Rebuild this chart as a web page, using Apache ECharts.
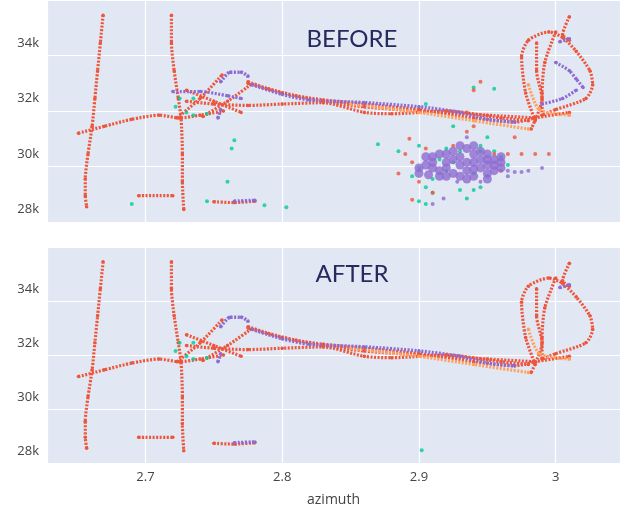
<!DOCTYPE html>
<html>
<head>
<meta charset="utf-8">
<script src="https://cdn.jsdelivr.net/npm/echarts@6/dist/echarts.min.js"></script>
<style>html,body{margin:0;background:#fff}#c{width:628px;height:508px}</style>
</head>
<body>
<div id="c"></div>
<script>
// tracks: [azimuth, value in k]
var redTracks = [
  [[2.669,35.0],[2.667,34],[2.665,33],[2.663,32],[2.661,31],[2.658,30],[2.656,29.1],[2.656,28.5],[2.657,28.1]],
  [[2.719,35.0],[2.719,34],[2.721,33],[2.724,32],[2.726,31.3],[2.727,30],[2.727,29],[2.728,28.0]],
  [[2.651,30.75],[2.67,31.0],[2.69,31.25],[2.71,31.4],[2.725,31.3],[2.74,31.4],[2.757,31.55]],
  [[2.695,28.5],[2.72,28.5]],
  [[2.75,28.28],[2.765,28.25],[2.78,28.3]],
  [[2.775,32.6],[2.79,32.35],[2.81,32.1],[2.83,31.95],[2.86,31.8],[2.90,31.6],[2.94,31.3],[2.97,31.15],[2.985,31.3],[3.01,31.5]],
  [[2.73,31.9],[2.75,31.8],[2.775,31.75],[2.80,31.8],[2.83,31.85],[2.86,31.5],[2.88,31.45],[2.92,31.55],[2.96,31.3],[2.98,31.2]],
  [[2.775,32.55],[2.80,32.2],[2.83,31.9],[2.86,31.7],[2.90,31.55],[2.95,31.4],[2.985,31.3]],
  [[2.985,31.2],[2.978,32.2],[2.975,33.5],[2.98,34.1],[2.995,34.4],[3.005,34.2],[3.015,33.7],[3.025,33.0],[3.027,32.5],[3.022,32.0],[3.0,31.6],[2.99,31.4]],
  [[2.986,34.0],[2.986,33],[2.99,32],[2.982,30.9]],
  [[3.0,34.4],[2.992,33.3],[2.99,32.2],[2.99,31.4]],
  [[3.01,34.95],[3.005,34.3],[3.01,34.1]],
  [[2.723,31.3],[2.74,32.0],[2.756,32.85]],
  [[2.73,32.3],[2.75,31.9],[2.77,31.5]],
  [[2.742,31.35],[2.76,31.9],[2.777,32.5]]
];
var purpleTracks = [
  [[2.755,32.6],[2.762,32.95],[2.77,32.95],[2.775,32.8]],
  [[2.778,32.5],[2.80,32.15],[2.82,31.95],[2.86,31.85],[2.90,31.7],[2.93,31.5],[2.95,31.25],[2.97,31.15]],
  [[2.753,31.3],[2.755,31.6]],
  [[3.003,34.05],[3.01,34.15]],
  [[2.765,28.3],[2.78,28.33]]
];
var purpleTracksBefore = [
  [[2.72,32.25],[2.74,32.25],[2.76,32.1],[2.77,32.0]],
  [[3.0,33.3],[3.01,33.0],[3.015,32.7],[3.02,32.4]],
  [[2.99,31.8],[3.005,32.0],[3.015,32.3]]
];
var orangeTracks = [
  [[2.85,31.8],[2.90,31.5],[2.94,31.2],[2.98,30.9]],
  [[2.98,32.5],[2.988,31.6],[3.01,31.4]]
];
var greenDots = [[2.722,31.7],[2.725,32.0],[2.735,32.0],[2.735,31.4],[2.745,31.45],[2.73,31.5]];
var greenDotsBefore = [[2.69,28.2],[2.745,28.3],[2.787,28.15],[2.803,28.08],[2.765,30.5],[2.763,30.2],[2.76,29.0],
  [2.905,31.8],[2.94,32.4],[2.955,32.35],[2.95,30.6],[2.925,31.0],[2.885,30.1],[2.87,30.35],[2.9,30.3],
  [2.915,29.8],[2.92,29.4],[2.905,28.8],[2.91,28.6],[2.93,28.7],[2.935,28.4],[2.945,28.8],[2.95,29.2],
  [2.96,29.9],[2.965,29.6],[2.955,30.1],[2.945,30.3],[2.9,29.5],[2.895,29.2],[2.91,29.1],[2.92,30.2],
  [2.94,29.3],[2.93,30.1],[2.925,29.7],[2.9,28.3],[2.905,28.2],[2.94,28.7],[2.945,30.1]];
var purpleCluster = [[2.90,29.3],[2.905,29.6],[2.91,29.9],[2.915,29.4],[2.92,29.7],[2.92,30.0],[2.925,29.3],
  [2.93,29.6],[2.93,29.9],[2.935,30.2],[2.935,29.4],[2.94,29.7],[2.94,30.0],[2.945,29.5],[2.945,29.8],
  [2.95,29.6],[2.95,30.0],[2.955,29.8],[2.955,29.4],[2.96,29.7],[2.91,29.5],[2.925,30.1],[2.905,29.9],
  [2.915,29.2],[2.93,29.2],[2.94,29.2],[2.95,29.3],[2.96,29.5],[2.91,29.7],[2.915,30.0],[2.92,29.5],
  [2.925,29.8],[2.935,29.7],[2.94,29.45],[2.945,30.1],[2.95,29.8],[2.955,29.6],[2.9,29.5],[2.907,29.25],
  [2.96,29.9],[2.93,30.3],[2.94,30.3],[2.92,29.2],[2.935,29.1],[2.95,29.1]];
var purpleTrail = [[2.965,29.4],[2.97,29.35],[2.975,29.35],[2.98,29.4],[2.99,29.5],[2.935,30.6],[2.928,29.0],
  [2.918,28.4],[2.91,28.2],[2.945,29.0],[2.965,29.2]];
var redCluster = [[2.893,30.55],[2.89,30.0],[2.895,29.7],[2.885,29.3],[2.9,29.0],[2.91,28.6],[2.895,28.35],
  [2.935,30.8],[2.94,31.0],[2.945,32.6],[2.94,32.3],[2.935,31.5],[2.955,30.0],[2.965,30.0],[2.975,30.0],
  [2.985,30.0],[2.995,30.0],[2.96,29.4],[2.925,30.3],[2.905,30.2],[2.97,30.6]];

var panels = ['BEFORE', 'AFTER'];
var colors = {red:'#ef553b', purple:'#8d6bd0', orange:'#ffa15a', green:'#00cc96'};

var series = [];
function addTracks(tracks, color, idx, width) {
  tracks.forEach(function (t) {
    series.push({
      type:'line', xAxisIndex:idx, yAxisIndex:idx, data:t, smooth:0.25,
      symbol:'circle', symbolSize:3.5, itemStyle:{color:color},
      lineStyle:{color:color, width:width || 3.2, type:[2,1.5]}, silent:true, z:2
    });
  });
}
function addDots(pts, color, idx, size) {
  series.push({type:'scatter', xAxisIndex:idx, yAxisIndex:idx, data:pts,
    symbolSize:size || 4, itemStyle:{color:color}, silent:true, z:3});
}
[0, 1].forEach(function (i) {
  addTracks(redTracks, colors.red, i);
  addTracks(orangeTracks, colors.orange, i);
  addTracks(purpleTracks, colors.purple, i, 3.5);
  if (i === 0) {
    addTracks(purpleTracksBefore, colors.purple, i);
    addDots(greenDotsBefore, colors.green, i);
    addDots(redCluster, colors.red, i);
    addDots(purpleCluster, colors.purple, i, 9);
    addDots(purpleTrail, colors.purple, i, 4);
    addDots(greenDots, colors.green, i);
  } else {
    addDots(greenDots, colors.green, i);
    addDots([[2.902,28.02]], colors.green, i);
  }
});

var axisY = function (i) {
  return {gridIndex:i, min:27.55, max:35.55, interval:2, splitNumber:4,
    axisLine:{show:false}, axisTick:{show:false},
    axisLabel:{color:'#444', fontSize:13, fontFamily:'Open Sans', customValues:[28,30,32,34],
      formatter:function (v) { return v + 'k'; }},
    splitLine:{lineStyle:{color:'#fff', width:1.2}}};
};
var axisX = function (i) {
  return {gridIndex:i, type:'value', min:2.628, max:3.047,
    axisLine:{show:false}, axisTick:{show:false},
    axisLabel:{show:i === 1, color:'#444', fontSize:13, fontFamily:'Open Sans', customValues:[2.7,2.8,2.9,3],
      formatter:function (v) { return v === 3 ? '3' : v.toFixed(1); }},
    splitLine:{show:true, lineStyle:{color:'#fff', width:1.2}},
    name:i === 1 ? 'azimuth' : '', nameLocation:'middle', nameGap:30,
    nameTextStyle:{color:'#444', fontSize:14, fontFamily:'Open Sans'}};
};

var chart = echarts.init(document.getElementById('c'));
chart.setOption({
  animation:false,
  title:panels.map(function (t, i) {
    return {text:t, left:347, top:i === 0 ? 22 : 257, textAlign:'center',
      textStyle:{color:'#262a5c', fontSize:24, fontWeight:'normal', fontFamily:'Lato'}};
  }),
  grid:[
    {left:47, right:8, top:0, height:222, backgroundColor:'#e1e8f4', show:true, borderWidth:0},
    {left:47, right:8, top:247, height:222, backgroundColor:'#e1e8f4', show:true, borderWidth:0}
  ],
  xAxis:[axisX(0), axisX(1)],
  yAxis:[axisY(0), axisY(1)],
  series:series
});
</script>
</body>
</html>
